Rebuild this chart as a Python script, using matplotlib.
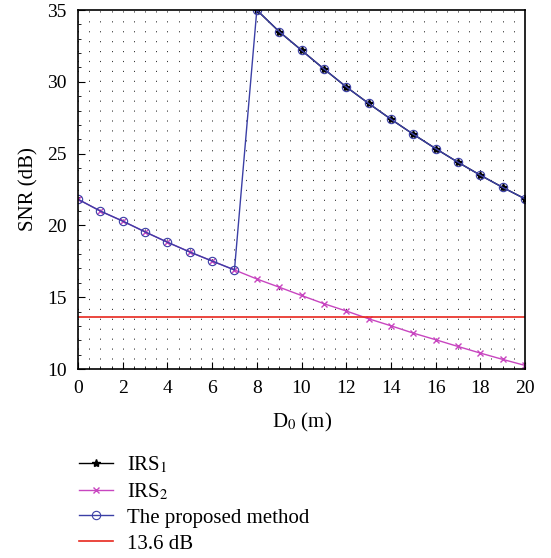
import matplotlib
matplotlib.use("Agg")
import matplotlib.pyplot as plt
from matplotlib.ticker import MultipleLocator

# distance D0 (m)
d_irs1 = [8, 9, 10, 11, 12, 13, 14, 15, 16, 17, 18, 19, 20]
snr_irs1 = [35.0, 33.5, 32.2, 30.9, 29.65, 28.5, 27.4, 26.35, 25.35, 24.4, 23.5, 22.65, 21.85]

d_irs2 = list(range(0, 21))
snr_irs2 = [21.82, 21.0, 20.3, 19.55, 18.83, 18.15, 17.52, 16.9, 16.27, 15.7, 15.12,
            14.55, 14.04, 13.5, 13.01, 12.5, 12.04, 11.57, 11.11, 10.67, 10.25]

d_proposed = list(range(0, 21))
snr_proposed = snr_irs2[:8] + snr_irs1

threshold = 13.6

plt.rcParams['font.family'] = ['Liberation Serif', 'DejaVu Serif']
plt.rcParams['mathtext.fontset'] = 'stix'

fig = plt.figure(figsize=(5.51, 5.58), dpi=100)
ax = fig.add_axes([0.1416, 0.3387, 0.8112, 0.6433])

blue = '#3b3fa6'
magenta = '#c846c0'
red = '#e8281e'

ax.plot(d_irs1, snr_irs1, color='black', marker='*', markersize=6, lw=1.0,
        label='IRS$_1$')
ax.plot(d_irs2, snr_irs2, color=magenta, marker='x', markersize=5, lw=1.0,
        label='IRS$_2$')
ax.plot(d_proposed, snr_proposed, color=blue, marker='o', markersize=6,
        markerfacecolor='none', markeredgewidth=0.8, lw=1.0,
        label='The proposed method')
ax.axhline(threshold, color=red, lw=1.2, label='13.6 dB')

ax.set_xlim(0, 20)
ax.set_ylim(10, 35)
ax.xaxis.set_major_locator(MultipleLocator(2))
ax.xaxis.set_minor_locator(MultipleLocator(0.5))
ax.yaxis.set_major_locator(MultipleLocator(5))
ax.yaxis.set_minor_locator(MultipleLocator(1))

# sparse dotted grid
ax.grid(True, which='both', axis='x', color='black', lw=0.7,
        linestyle=(0, (1.2, 9)), alpha=0.8)

ax.tick_params(which='both', direction='in', top=False, right=False, labelsize=14)
ax.tick_params(which='major', length=5, pad=8)
ax.tick_params(which='minor', length=2.5)
for s in ax.spines.values():
    s.set_linewidth(1.2)

ax.set_xlabel('D$_0$ (m)', fontsize=15, labelpad=10)
ax.set_ylabel('SNR (dB)', fontsize=15, labelpad=6)

fig.legend(loc='upper left', bbox_to_anchor=(0.1434, 0.186), frameon=False,
           borderpad=0, borderaxespad=0, fontsize=15, handlelength=1.65,
           handletextpad=0.65, labelspacing=0.3)

fig.savefig('out.png', dpi=100)
